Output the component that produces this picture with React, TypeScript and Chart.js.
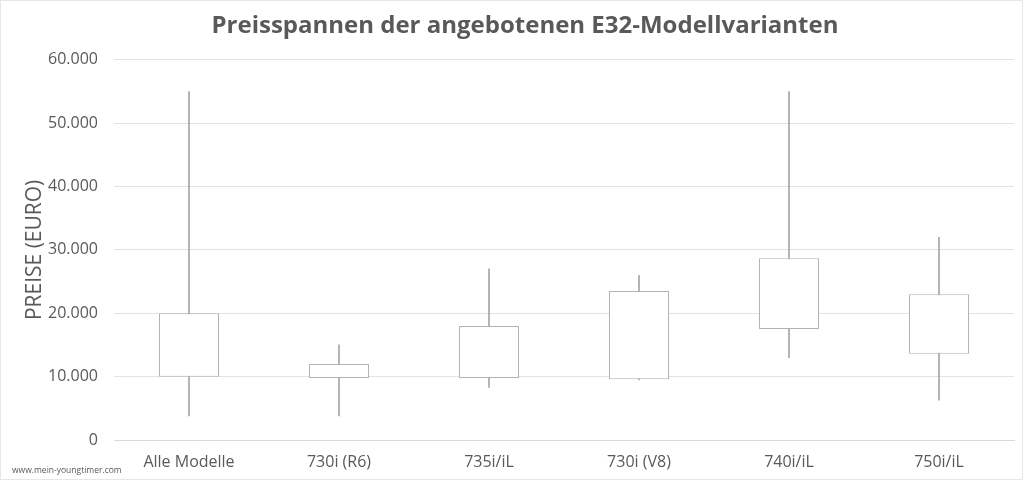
import React, { useEffect, useRef } from "react";
import { Chart, registerables } from "chart.js";

Chart.register(...registerables);

const categories = ["Alle Modelle", "730i (R6)", "735i/iL", "730i (V8)", "740i/iL", "750i/iL"];
const minValues = [3800, 3800, 8300, 9500, 13000, 6300];
const boxLow = [10000, 9800, 9800, 9600, 17500, 13600];
const boxHigh = [20000, 12000, 18000, 23500, 28700, 23000];
const maxValues = [55000, 15000, 27000, 26000, 55000, 32000];
const yTicks = [0, 10000, 20000, 30000, 40000, 50000, 60000];

const titleText = "Preisspannen der angebotenen E32-Modellvarianten";
const yTitle = "PREISE (EURO)";
const watermark = "www.mein-youngtimer.com";

const FONT = "'Open Sans', 'Noto Sans', sans-serif";
const TEXT = "#595959";

function fmt(v: number): string {
  return String(Math.round(v)).replace(/\B(?=(\d{3})+(?!\d))/g, ".");
}

export default function App() {
  const ref = useRef<HTMLCanvasElement | null>(null);
  useEffect(() => {
    if (!ref.current) return;
    const chart = new Chart(ref.current, {
      type: "bar",
      data: {
        labels: categories,
        datasets: [
          {
            label: "box",
            data: boxLow.map((v, i) => [v, boxHigh[i]]) as any,
            backgroundColor: "#ffffff",
            borderColor: "#b3b3b3",
            borderWidth: 1,
            borderSkipped: false,
            categoryPercentage: 1,
            barPercentage: 0.4,
          },
          {
            label: "range",
            data: minValues.map((v, i) => [v, maxValues[i]]) as any,
            backgroundColor: "#a6a6a6",
            borderWidth: 0,
            barThickness: 1,
          },
        ],
      },
      options: {
        responsive: false,
        animation: false,
        grouped: false,
        layout: { padding: { left: 36, right: 10, top: 0, bottom: 0 } },
        plugins: {
          legend: { display: false },
          tooltip: { enabled: false },
          title: {
            display: true,
            text: titleText,
            color: TEXT,
            font: { family: FONT, size: 24, weight: "bold" },
            padding: { top: 12, bottom: 19 },
          },
        },
        scales: {
          x: {
            type: "category",
            grid: { display: false, drawTicks: false },
            border: { display: true, color: "#d9d9d9" },
            ticks: { color: TEXT, font: { family: FONT, size: 16 }, padding: 13 },
            afterFit: (s: any) => {
              s.height = 41;
            },
          },
          y: {
            min: 0,
            max: 60000,
            afterBuildTicks: (s: any) => {
              s.ticks = yTicks.map((v) => ({ value: v }));
            },
            grid: { color: "#e3e3e3", drawTicks: false },
            border: { display: false },
            ticks: {
              color: TEXT,
              font: { family: FONT, size: 16 },
              padding: 16,
              callback: (v: any) => fmt(Number(v)),
            },
            title: {
              display: true,
              text: yTitle,
              color: TEXT,
              font: { family: FONT, size: 21 },
              padding: { top: -14, bottom: 0 },
            },
            afterFit: (s: any) => {
              s.width = 78;
            },
          },
        },
      } as any,
    });
    return () => chart.destroy();
  }, []);
  return (
    <div style={{ position: "fixed", left: 0, top: 0, width: 1024, height: 481, background: "#fff" }}>
      <canvas ref={ref} width={1024} height={481} style={{ display: "block" }} />
      <div
        style={{
          position: "absolute",
          left: 12,
          top: 464,
          fontFamily: FONT,
          fontSize: 8.5,
          color: TEXT,
          lineHeight: "11px",
          whiteSpace: "nowrap",
        }}
      >
        {watermark}
      </div>
      <div
        style={{
          position: "absolute",
          left: 0,
          top: 0,
          width: 1021,
          height: 478,
          border: "1px solid #e6e6e6",
          pointerEvents: "none",
        }}
      />
    </div>
  );
}
